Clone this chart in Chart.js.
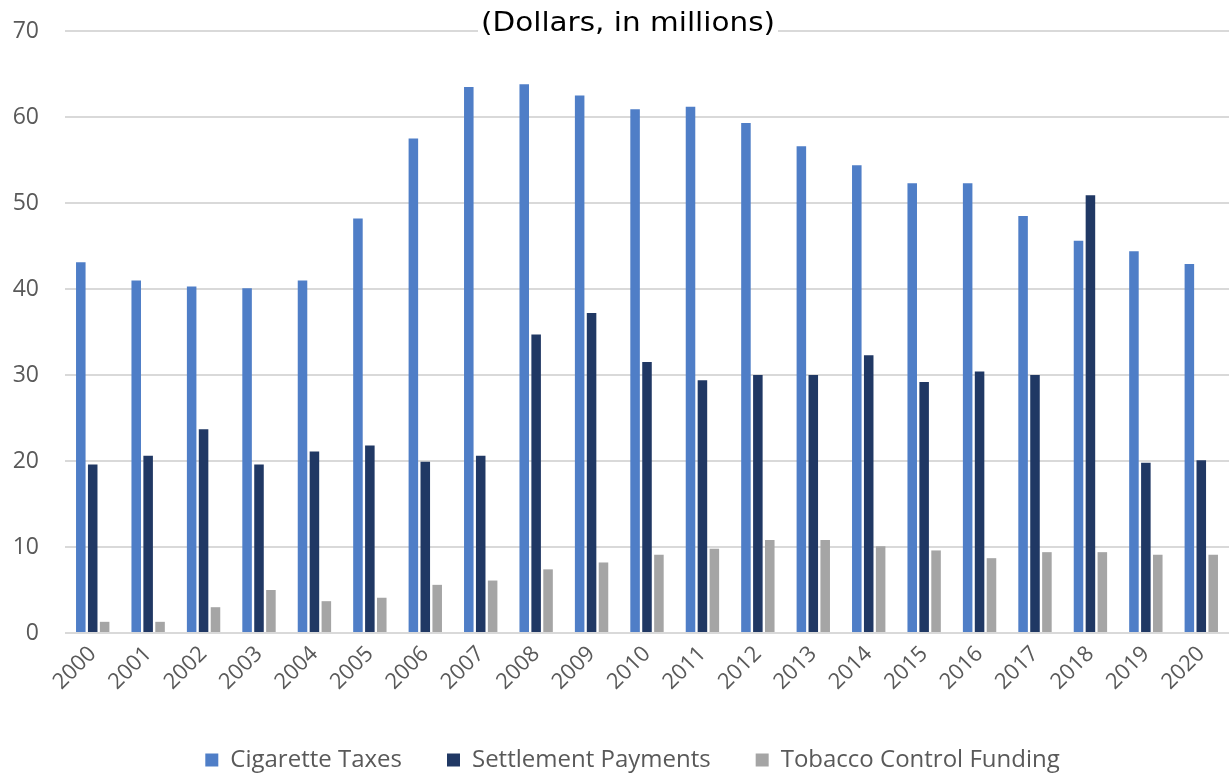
<!DOCTYPE html>
<html>
<head>
<meta charset="utf-8">
<script src="https://cdn.jsdelivr.net/npm/chart.js@4.4.0/dist/chart.umd.min.js"></script>
<style>
  html, body { margin: 0; padding: 0; background: #fff; }
  #wrap { width: 1231px; height: 774px; }
</style>
</head>
<body>
<div id="wrap"><canvas id="fundingChart"></canvas></div>
<script>
const years = ["2000", "2001", "2002", "2003", "2004", "2005", "2006", "2007", "2008", "2009", "2010",
  "2011", "2012", "2013", "2014", "2015", "2016", "2017", "2018", "2019", "2020"];

// dollars, in millions
const cigaretteTaxes = [43.1, 41.0, 40.3, 40.1, 41.0, 48.2, 57.5, 63.5, 63.8, 62.5, 60.9,
  61.2, 59.3, 56.6, 54.4, 52.3, 52.3, 48.5, 45.6, 44.4, 42.9];
const settlementPayments = [19.6, 20.6, 23.7, 19.6, 21.1, 21.8, 19.9, 20.6, 34.7, 37.2, 31.5,
  29.4, 30.0, 30.0, 32.3, 29.2, 30.4, 30.0, 50.9, 19.8, 20.1];
const tobaccoControl = [1.3, 1.3, 3.0, 5.0, 3.7, 4.1, 5.6, 6.1, 7.4, 8.2, 9.1,
  9.8, 10.8, 10.8, 10.1, 9.6, 8.7, 9.4, 9.4, 9.1, 9.1];

const subtitle = "(Dollars, in millions)";

const tickGray = "#595959";

// subtitle sits on top of the 70 gridline with a white box behind it
const subtitlePlugin = {
  id: "subtitleText",
  afterDraw(chart) {
    const ctx = chart.ctx;
    ctx.save();
    ctx.font = "26px 'DejaVu Sans'";
    // squeeze the text to the width of the header band
    const w = ctx.measureText(subtitle).width;
    const target = 294;
    const cx = 628, cy = 24;
    ctx.fillStyle = "#fff";
    ctx.fillRect(cx - target / 2 - 3, cy - 18, target + 6, 34);
    ctx.translate(cx, cy);
    ctx.scale(target / w, 1);
    ctx.fillStyle = "#000";
    ctx.textAlign = "center";
    ctx.textBaseline = "middle";
    ctx.fillText(subtitle, 0, 0);
    ctx.restore();
  }
};

// nudge the legend row so it sits under the middle of the plot
const legendShift = {
  id: "legendShift",
  afterLayout(chart) {
    if (chart.legend) {
      chart.legend.left += 18;
      chart.legend.right += 18;
    }
  }
};

const ctx = document.getElementById("fundingChart").getContext("2d");
new Chart(ctx, {
  type: "bar",
  data: {
    labels: years,
    datasets: [
      { label: "Cigarette Taxes", data: cigaretteTaxes, backgroundColor: "#4f7ec7" },
      { label: "Settlement Payments", data: settlementPayments, backgroundColor: "#203864" },
      { label: "Tobacco Control Funding", data: tobaccoControl, backgroundColor: "#a5a5a5" }
    ]
  },
  options: {
    responsive: true,
    maintainAspectRatio: false,
    animation: false,
    layout: { padding: { top: 31, left: 0, right: 2, bottom: -8 } },
    datasets: { bar: { categoryPercentage: 0.645, barPercentage: 0.8 } },
    scales: {
      x: {
        grid: { display: false, drawTicks: false },
        border: { display: false },
        ticks: {
          color: tickGray,
          font: { family: "Open Sans", size: 22 },
          minRotation: 45,
          maxRotation: 45,
          autoSkip: false,
          padding: 8
        },
        afterFit(scale) { scale.height = 70; }
      },
      y: {
        min: 0,
        max: 70,
        ticks: { stepSize: 10, color: tickGray, font: { family: "Open Sans", size: 23 }, padding: 26 },
        grid: { color: "#d9d9d9", lineWidth: 2, drawTicks: false },
        border: { display: false },
        afterFit(scale) {
          scale.width = 65;
          // the wide tick padding would otherwise push the plot down
          scale.paddingTop = 0;
          scale.paddingBottom = 0;
        }
      }
    },
    plugins: {
      legend: {
        position: "bottom",
        labels: {
          boxWidth: 13,
          boxHeight: 13,
          padding: 45,
          color: tickGray,
          font: { family: "Open Sans", size: 24, lineHeight: 1 }
        }
      },
      tooltip: { enabled: false }
    }
  },
  plugins: [subtitlePlugin, legendShift]
});
</script>
</body>
</html>
